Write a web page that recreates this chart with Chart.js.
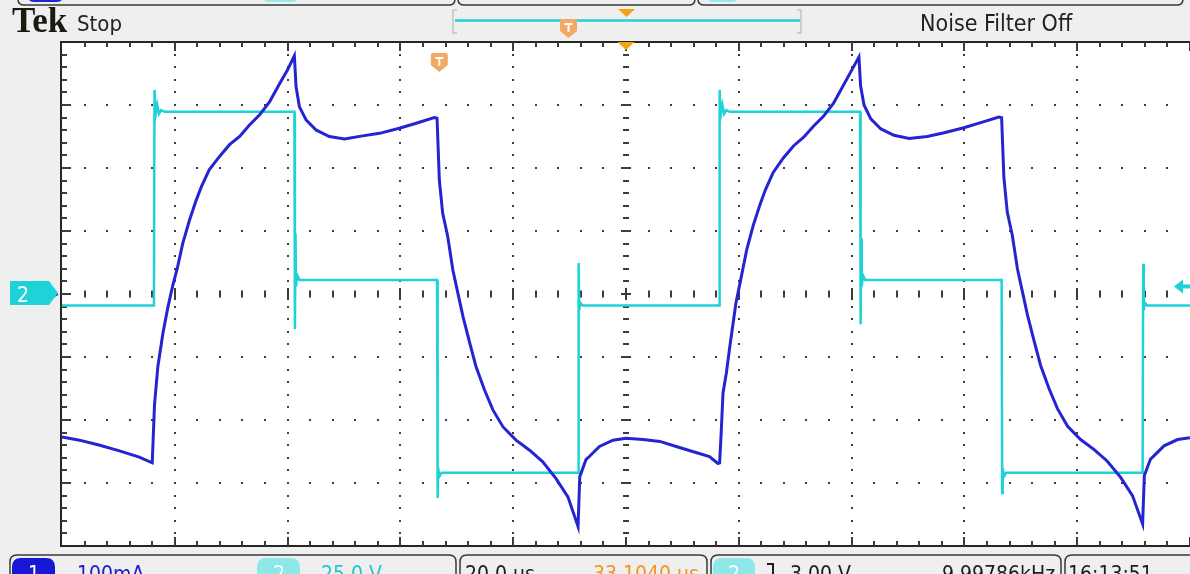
<!DOCTYPE html>
<html>
<head>
<meta charset="utf-8">
<script src="https://cdn.jsdelivr.net/npm/chart.js@4"></script>
<style>
  html, body { margin: 0; padding: 0; background: #efefef; overflow: hidden; }
  canvas { display: block; }
</style>
</head>
<body>
<canvas id="scope" width="1190" height="574"></canvas>
<script>
// Channel 1: coil current (mA), 100 mA/div
const ch1Time = [0, 3.1, 6.7, 10.2, 13.7, 16.0, 16.4, 17.0, 17.9, 18.8, 19.6, 20.5, 21.4, 22.6, 23.8, 24.7, 26.1, 27.9, 29.7, 31.5, 33.2, 35.0, 36.8, 38.6, 40.0, 41.2, 41.5, 42.1, 43.3, 45.1, 47.4, 50.1, 53.3, 56.3, 59.8, 62.8, 66.0, 66.5, 66.9, 67.5, 68.4, 69.3, 70.2, 71.1, 72.3, 73.4, 74.9, 76.4, 78.2, 80.5, 82.9, 85.2, 87.6, 89.7, 91.5, 91.8, 92.9, 93.5, 95.3, 97.7, 100.0, 103.0, 106.0, 108.9, 111.8, 114.8, 116.3, 116.6, 116.9, 117.2, 117.8, 118.4, 118.9, 119.5, 120.5, 121.4, 122.6, 123.8, 124.7, 126.1, 127.9, 129.7, 131.5, 133.2, 135.0, 136.8, 138.6, 140.0, 141.3, 141.6, 142.2, 143.4, 145.2, 147.5, 150.2, 153.4, 156.4, 159.9, 162.9, 166.1, 166.6, 167.0, 167.6, 168.5, 169.4, 170.3, 171.2, 172.4, 173.5, 175.0, 176.5, 178.3, 180.6, 183.0, 185.3, 187.7, 189.8, 191.6, 191.9, 193.0, 193.6, 195.4, 197.8, 200.0];
const ch1Current = [-227, -232, -240, -249, -259, -268, -176, -115, -62, -20, 12, 43, 80, 117, 149, 170, 197, 218, 237, 250, 268, 284, 305, 334, 356, 378, 329, 297, 276, 260, 250, 246, 251, 255, 263, 271, 280, 279, 181, 128, 91, 38, 1, -36, -78, -115, -152, -184, -211, -232, -248, -266, -293, -322, -369, -290, -263, -258, -242, -232, -229, -231, -234, -242, -250, -258, -269, -268, -216, -157, -125, -84, -52, -14, 30, 70, 110, 143, 165, 193, 216, 235, 249, 266, 282, 303, 332, 355, 376, 330, 300, 278, 262, 252, 247, 250, 256, 264, 272, 281, 280, 185, 130, 93, 40, 3, -34, -76, -113, -150, -182, -210, -231, -247, -265, -291, -320, -365, -288, -262, -257, -241, -231, -228];

// Channel 2: drive voltage (V), 25 V/div
const ch2Time = [0, 16.3, 16.4, 16.6, 16.9, 17.2, 17.6, 18.2, 41.2, 41.3, 41.4, 41.5, 41.7, 42.1, 66.5, 66.6, 66.7, 66.9, 67.3, 91.5, 91.6, 91.7, 91.9, 92.3, 116.5, 116.6, 116.8, 117.1, 117.4, 117.8, 118.4, 141.5, 141.6, 141.7, 141.8, 142.0, 142.4, 166.6, 166.7, 166.8, 167.0, 167.4, 191.6, 191.7, 191.8, 192.0, 192.4, 200.0];
const ch2Volts = [-4.6, -4.6, 81, 71, 75, 71.5, 73, 72.3, 72.3, -14, 24, 3, 7.5, 5.6, 5.6, -81, -69, -72.5, -70.9, -70.9, 12.3, -6.5, -3.5, -4.6, -4.6, 81, 71, 75, 71.5, 73, 72.3, 72.3, -12, 22, 3, 7.5, 5.6, 5.6, -79, -69, -72.5, -70.9, -70.9, 12, -6.5, -3.5, -4.6, -4.6];

// Horizontal: 20 µs/div over 10 divisions; vertical: 8 divisions
const timeRange = [0, 200];
const ch2Range = [-100, 100];
const ch1Range = [-400, 400];
const triggerTime = 66.9;     // trigger position marker (µs)
const expansionTime = 100;    // expansion point marker (µs)
const triggerLevel = 3.0;     // ch2 trigger level (V)

const headerLeft = ['Tek', 'Stop'];
const headerRight = 'Noise Filter Off';
const footerTexts = {
  ch1Scale: '100mA', ch2Scale: '25.0 V', timebase: '20.0 µs', position: '33.1040 µs',
  trigLevel: '3.00 V', frequency: '9.99786kHz', clock: '16:13:51'
};

const CYAN = '#1fd2d8';
const BLUE = '#2424d2';
const ORANGE = '#f2a413';
const ORANGE_LIGHT = '#f2a964';
const GRID = '#3c3c3c';
const FONT = "'DejaVu Sans Condensed', 'DejaVu Sans', sans-serif";

function zip(xs, ys) { return xs.map((x, i) => ({ x: x, y: ys[i] })); }

function roundRect(ctx, x, y, w, h, r) {
  ctx.beginPath();
  ctx.moveTo(x + r, y);
  ctx.lineTo(x + w - r, y);
  ctx.quadraticCurveTo(x + w, y, x + w, y + r);
  ctx.lineTo(x + w, y + h - r);
  ctx.quadraticCurveTo(x + w, y + h, x + w - r, y + h);
  ctx.lineTo(x + r, y + h);
  ctx.quadraticCurveTo(x, y + h, x, y + h - r);
  ctx.lineTo(x, y + r);
  ctx.quadraticCurveTo(x, y, x + r, y);
  ctx.closePath();
}

function tMarker(ctx, cx, top) {
  ctx.save();
  ctx.fillStyle = ORANGE_LIGHT;
  ctx.beginPath();
  ctx.moveTo(cx - 8.5, top + 2);
  ctx.quadraticCurveTo(cx - 8.5, top, cx - 6.5, top);
  ctx.lineTo(cx + 6.5, top);
  ctx.quadraticCurveTo(cx + 8.5, top, cx + 8.5, top + 2);
  ctx.lineTo(cx + 8.5, top + 12);
  ctx.lineTo(cx, top + 19);
  ctx.lineTo(cx - 8.5, top + 12);
  ctx.closePath();
  ctx.fill();
  ctx.fillStyle = '#ffffff';
  ctx.fillRect(cx - 4, top + 4, 8, 2);
  ctx.fillRect(cx - 1, top + 4, 2, 9);
  ctx.restore();
}

function downTriangle(ctx, cx, top) {
  ctx.fillStyle = ORANGE;
  ctx.beginPath();
  ctx.moveTo(cx - 8.5, top);
  ctx.lineTo(cx + 8.5, top);
  ctx.lineTo(cx, top + 8);
  ctx.closePath();
  ctx.fill();
}

// Page chrome behind and around the graticule
const backgroundPlugin = {
  id: 'scopeBackground',
  beforeDraw(chart) {
    const { ctx, chartArea: a } = chart;
    ctx.save();
    ctx.fillStyle = '#efefef';
    ctx.fillRect(0, 0, chart.width, chart.height);
    ctx.fillStyle = '#ffffff';
    ctx.fillRect(a.left - 1, a.top, a.right - a.left + 1, a.bottom - a.top);
    ctx.restore();
  }
};

// Graticule: dotted division lines, dashed centre cross and edge ticks
const graticulePlugin = {
  id: 'graticule',
  beforeDatasetsDraw(chart) {
    const { ctx, chartArea: a, scales } = chart;
    const xs = scales.x, ys = scales.y;
    const xMinor = [], yMinor = [];
    for (let t = timeRange[0]; t <= timeRange[1] + 1e-6; t += 4) xMinor.push(xs.getPixelForValue(t));
    for (let v = ch2Range[0]; v <= ch2Range[1] + 1e-6; v += 5) yMinor.push(ys.getPixelForValue(v));
    const xc = 25, yc = 20;
    ctx.save();
    ctx.fillStyle = GRID;
    // dotted division lines
    for (let i = 5; i < xMinor.length - 1; i += 5) {
      if (i === xc) continue;
      const px = Math.round(xMinor[i]);
      for (let j = 1; j < yMinor.length - 1; j++) {
        if (j === yc) continue;
        ctx.fillRect(px - 1, Math.round(yMinor[j]) - 1, 2, 2);
      }
    }
    for (let j = 5; j < yMinor.length - 1; j += 5) {
      if (j === yc) continue;
      const py = Math.round(yMinor[j]);
      for (let i = 1; i < xMinor.length - 1; i++) {
        if (i === xc) continue;
        ctx.fillRect(Math.round(xMinor[i]) - 1, py - 1, 2, 2);
      }
    }
    // centre cross with tick marks
    const cx = Math.round(xMinor[xc]), cy = Math.round(yMinor[yc]);
    for (let j = 1; j < yMinor.length - 1; j++) {
      const w = (j % 5 === 0) ? 10 : 6;
      ctx.fillRect(cx - w / 2, Math.round(yMinor[j]) - 1, w, 2);
    }
    for (let i = 1; i < xMinor.length - 1; i++) {
      const h = (i % 5 === 0) ? 12 : 7;
      ctx.fillRect(Math.round(xMinor[i]) - 1, cy - h / 2, 2, h);
    }
    // frame
    ctx.strokeStyle = '#262626';
    ctx.lineWidth = 2;
    ctx.beginPath();
    ctx.moveTo(a.right + 2, a.top);
    ctx.lineTo(a.left - 1, a.top);
    ctx.lineTo(a.left - 1, a.bottom);
    ctx.lineTo(a.right + 2, a.bottom);
    ctx.stroke();
    // frame ticks
    for (let j = 1; j < yMinor.length - 1; j++) {
      const len = (j % 5 === 0) ? 10 : 6;
      ctx.fillRect(a.left - 1, Math.round(yMinor[j]) - 1, len, 2);
    }
    for (let i = 1; i < xMinor.length; i++) {
      const len = (i % 5 === 0) ? 9 : 5;
      const px = Math.round(xMinor[i]) - 1;
      ctx.fillRect(px, a.top, 2, len);
      ctx.fillRect(px, a.bottom - len, 2, len);
    }
    ctx.restore();
  }
};

// Markers, header and readout panels
const annotationPlugin = {
  id: 'scopeAnnotations',
  afterDatasetsDraw(chart) {
    const { ctx, chartArea: a, scales } = chart;
    const xs = scales.x, ys = scales.y;
    ctx.save();

    // header band
    ctx.fillStyle = '#efefef';
    ctx.fillRect(0, 0, chart.width, a.top - 1);
    ctx.strokeStyle = '#3a3a3a';
    ctx.lineWidth = 1.5;
    [[18, 437], [458, 237], [698, 485]].forEach(([x, w]) => {
      roundRect(ctx, x, -30, w, 35, 6);
      ctx.stroke();
    });
    ctx.fillStyle = BLUE;
    roundRect(ctx, 28, -12, 35, 14, 6); ctx.fill();
    ctx.fillStyle = '#93ecec';
    roundRect(ctx, 263, -12, 35, 14, 6); ctx.fill();
    roundRect(ctx, 707, -12, 31, 14, 6); ctx.fill();

    ctx.fillStyle = '#1a1a10';
    ctx.textBaseline = 'alphabetic';
    ctx.font = "bold 35px 'Liberation Serif', 'DejaVu Serif', serif";
    ctx.fillText(headerLeft[0], 12, 32);
    ctx.fillStyle = '#222222';
    ctx.font = '22px ' + FONT;
    ctx.fillText(headerLeft[1], 77, 31);
    ctx.font = '23px ' + FONT;
    ctx.fillText(headerRight, 920, 31);

    // record view bar
    ctx.strokeStyle = '#c4c4c4';
    ctx.lineWidth = 1.5;
    ctx.beginPath();
    ctx.moveTo(457, 10); ctx.lineTo(453, 10); ctx.lineTo(453, 33); ctx.lineTo(457, 33);
    ctx.moveTo(797, 10); ctx.lineTo(801, 10); ctx.lineTo(801, 33); ctx.lineTo(797, 33);
    ctx.stroke();
    ctx.strokeStyle = CYAN;
    ctx.lineWidth = 2.5;
    ctx.beginPath();
    ctx.moveTo(455, 20.5); ctx.lineTo(800, 20.5);
    ctx.stroke();
    downTriangle(ctx, 626.5, 9);
    tMarker(ctx, 568.5, 19);

    // graticule-top markers tied to the time axis
    downTriangle(ctx, xs.getPixelForValue(expansionTime), a.top);
    tMarker(ctx, xs.getPixelForValue(triggerTime), a.top + 11);

    // channel 1 marker (behind) and channel 2 marker on the left
    const y0 = ys.getPixelForValue(0);
    ctx.strokeStyle = BLUE;
    ctx.lineWidth = 2;
    ctx.beginPath();
    ctx.moveTo(15, y0 + 8); ctx.lineTo(44, y0 + 8); ctx.lineTo(58, y0);
    ctx.stroke();
    ctx.fillStyle = CYAN;
    ctx.beginPath();
    ctx.moveTo(10, y0 - 13); ctx.lineTo(49, y0 - 13); ctx.lineTo(58, y0 - 1);
    ctx.lineTo(49, y0 + 11); ctx.lineTo(10, y0 + 11); ctx.closePath();
    ctx.fill();
    ctx.fillStyle = '#ffffff';
    ctx.font = '21px ' + FONT;
    ctx.fillText('2', 17, y0 + 8);

    // trigger level arrow on the right edge
    const yt = ys.getPixelForValue(triggerLevel);
    ctx.fillStyle = CYAN;
    ctx.beginPath();
    ctx.moveTo(1174, yt); ctx.lineTo(1183, yt - 7); ctx.lineTo(1183, yt + 7); ctx.closePath();
    ctx.fill();
    ctx.fillRect(1181, yt - 2, 12, 4);

    // readout panels along the bottom
    ctx.fillStyle = '#efefef';
    ctx.fillRect(0, a.bottom + 1, chart.width, chart.height - a.bottom);
    ctx.strokeStyle = '#3a3a3a';
    ctx.lineWidth = 1.5;
    [[10, 446], [460, 247], [711, 350], [1065, 160]].forEach(([x, w]) => {
      roundRect(ctx, x, 555, w, 40, 7);
      ctx.stroke();
    });
    ctx.fillStyle = '#1717d6';
    roundRect(ctx, 12, 558, 43, 24, 9); ctx.fill();
    ctx.fillStyle = '#8ee8ea';
    roundRect(ctx, 257, 558, 43, 24, 9); ctx.fill();
    roundRect(ctx, 713, 558, 42, 24, 9); ctx.fill();
    ctx.font = '21px ' + FONT;
    ctx.fillStyle = '#ffffff';
    ctx.fillText('1', 28, 581);
    ctx.fillText('2', 273, 581);
    ctx.fillText('2', 728, 581);
    ctx.fillStyle = '#2020d2';
    ctx.fillText(footerTexts.ch1Scale, 77, 581);
    ctx.fillStyle = '#22c8d2';
    ctx.fillText(footerTexts.ch2Scale, 321, 581);
    ctx.fillStyle = '#1e1e1e';
    ctx.fillText(footerTexts.timebase, 465, 581);
    ctx.fillStyle = '#f0981e';
    ctx.fillText(footerTexts.position, 593, 581);
    ctx.fillStyle = '#1e1e1e';
    ctx.fillRect(772, 563, 2, 12);
    ctx.fillRect(767, 563, 6, 2);
    ctx.fillText(footerTexts.trigLevel, 790, 581);
    ctx.fillText(footerTexts.frequency, 942, 581);
    ctx.fillText(footerTexts.clock, 1068, 581);

    ctx.restore();
  }
};

new Chart(document.getElementById('scope'), {
  type: 'line',
  data: {
    datasets: [
      {
        label: 'CH1',
        data: zip(ch1Time, ch1Current),
        yAxisID: 'y1',
        borderColor: BLUE,
        borderWidth: 3,
        pointRadius: 0,
        tension: 0,
        fill: false
      },
      {
        label: 'CH2',
        data: zip(ch2Time, ch2Volts),
        yAxisID: 'y',
        borderColor: CYAN,
        borderWidth: 2.5,
        pointRadius: 0,
        tension: 0,
        fill: false
      }
    ]
  },
  options: {
    responsive: false,
    devicePixelRatio: 1,
    animation: false,
    events: [],
    layout: { padding: { left: 62, top: 42, right: 0, bottom: 28 } },
    plugins: { legend: { display: false }, tooltip: { enabled: false } },
    scales: {
      x: { type: 'linear', min: timeRange[0], max: timeRange[1], display: false },
      y: { type: 'linear', min: ch2Range[0], max: ch2Range[1], display: false },
      y1: { type: 'linear', min: ch1Range[0], max: ch1Range[1], display: false }
    }
  },
  plugins: [backgroundPlugin, graticulePlugin, annotationPlugin]
});
</script>
</body>
</html>
